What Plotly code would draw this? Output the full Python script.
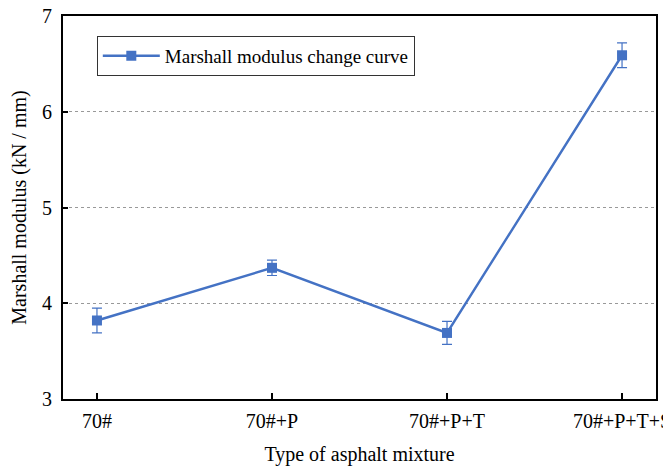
import plotly.graph_objects as go

categories = ["70#", "70#+P", "70#+P+T", "70#+P+T+S"]
modulus = [3.82, 4.37, 3.69, 6.59]
errors = [0.13, 0.08, 0.12, 0.13]

color = "#4472C4"
font = "Liberation Serif, Times New Roman, serif"

fig = go.Figure()
fig.add_trace(go.Scatter(
    x=list(range(len(categories))), y=modulus,
    mode="lines+markers",
    name="Marshall modulus change curve",
    line=dict(color=color, width=2.4),
    marker=dict(symbol="square", size=10, color=color),
    error_y=dict(type="data", array=errors, visible=True, color=color, thickness=1.2, width=5),
))

fig.update_layout(
    width=663, height=458,
    margin=dict(l=55, r=15, t=8, b=67),
    paper_bgcolor="white", plot_bgcolor="white",
    font=dict(family=font, size=20, color="black"),
    showlegend=True,
    legend=dict(x=0.057, y=0.948, xanchor="left", yanchor="top",
                bordercolor="#333333", borderwidth=1, bgcolor="white",
                itemwidth=57,
                font=dict(family=font, size=19)),
)
fig.update_xaxes(
    range=[-0.194, 3.194], automargin=False,
    tickmode="array", tickvals=list(range(len(categories))), ticktext=categories,
    ticks="inside", ticklen=6, tickwidth=1.5, tickcolor="black",
    showline=True, linecolor="black", linewidth=2, mirror=True,
    showgrid=False, zeroline=False,
    ticklabelstandoff=3, ticklabeloverflow="allow",
    tickfont=dict(family=font, size=20),
    title=dict(text="Type of asphalt mixture", font=dict(family=font, size=20), standoff=16),
)
fig.update_yaxes(
    range=[3, 7], dtick=1, automargin=False,
    ticks="inside", ticklen=5, tickwidth=1.5, tickcolor="black",
    showline=True, linecolor="black", linewidth=2, mirror=True,
    showgrid=True, gridcolor="#999999", griddash="dot", gridwidth=1,
    zeroline=False,
    ticklabelstandoff=5, ticklabeloverflow="allow",
    tickfont=dict(family=font, size=20),
    title=dict(text="Marshall modulus (kN / mm)", font=dict(family=font, size=20), standoff=16),
)

fig.write_html("out.html")
